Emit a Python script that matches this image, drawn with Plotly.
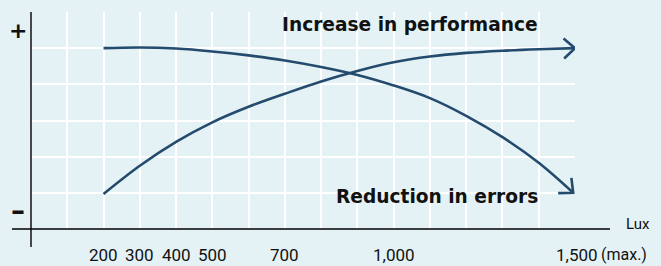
import math
import plotly.graph_objects as go

# ---- data ----
lux_perf = [200, 300, 400, 500, 600, 700, 800, 900, 1000, 1100, 1200, 1300, 1400, 1500]
performance = [0.97, 1.75, 2.41, 2.95, 3.38, 3.74, 4.08, 4.37, 4.61, 4.77, 4.87, 4.93, 4.97, 5.00]

lux_err = [200, 300, 400, 500, 600, 700, 800, 900, 1000, 1100, 1200, 1300, 1400, 1495]
errors = [5.00, 5.02, 4.99, 4.91, 4.80, 4.66, 4.48, 4.26, 3.97, 3.62, 3.13, 2.54, 1.83, 1.00]

tick_vals = [200, 300, 400, 500, 700, 1000, 1500]
tick_text = ["200", "300", "400", "500", "700", "1,000", "1,500 (max.)"]

series_labels = ["Increase in performance", "Reduction in errors"]
x_unit = "Lux"
y_labels = ["+", "–"]

# ---- style ----
W, H = 661, 266
ML, MR, MT, MB = 31, 86, 12, 37
PW, PH = W - ML - MR, H - MT - MB
XR = [0, 1500]
YR = [0, 6]
BG = "#E4F2F6"
NAVY = "#244B6D"
TXT = "#111111"
BOLD_FONT = "DejaVu Sans"
TICK_FONT = "Roboto, sans-serif"

fig = go.Figure()

def arrowhead(xs, ys, length=15, half_angle=42):
    # derived from the last two data points, in pixel space
    sx = PW / (XR[1] - XR[0])
    sy = PH / (YR[1] - YR[0])
    x1, y1 = xs[-1] * sx, ys[-1] * sy
    x0, y0 = xs[-2] * sx, ys[-2] * sy
    ang = math.atan2(y1 - y0, x1 - x0)
    back = ang + math.pi
    pts = []
    for a in (back + math.radians(half_angle), None, back - math.radians(half_angle)):
        if a is None:
            pts.append((xs[-1], ys[-1]))
        else:
            pts.append(((x1 + length * math.cos(a)) / sx, (y1 + length * math.sin(a)) / sy))
    return [p[0] for p in pts], [p[1] for p in pts]

for xs, ys in ((lux_perf, performance), (lux_err, errors)):
    fig.add_trace(go.Scatter(x=xs, y=ys, mode="lines",
                             line=dict(color=NAVY, width=2.6, shape="spline", smoothing=1),
                             hoverinfo="skip", showlegend=False))
    ax, ay = arrowhead(xs, ys)
    fig.add_trace(go.Scatter(x=ax, y=ay, mode="lines",
                             line=dict(color=NAVY, width=2.6),
                             hoverinfo="skip", showlegend=False))

# axis lines (extend beyond plot area)
fig.add_shape(type="line", xref="paper", yref="paper", x0=-19 / PW, x1=(610 - ML) / PW, y0=0, y1=0,
              line=dict(color="#000000", width=1.4))
fig.add_shape(type="line", xref="paper", yref="paper", x0=0, x1=0, y0=1, y1=-18 / PH,
              line=dict(color="#000000", width=1.4))

annotations = []
# tick labels
for v, t in zip(tick_vals, tick_text):
    if "(" in t:
        num, rest = t.split(" ", 1)
        annotations.append(dict(x=v, y=-26 / PH, xref="x", yref="paper", text=num, showarrow=False,
                                xanchor="center", yanchor="middle", xshift=2,
                                font=dict(family=TICK_FONT, size=17, color=TXT)))
        annotations.append(dict(x=v, y=-26 / PH, xref="x", yref="paper", text=rest, showarrow=False,
                                xanchor="left", yanchor="middle", xshift=24,
                                font=dict(family=TICK_FONT, size=16, color=TXT)))
    else:
        annotations.append(dict(x=v, y=-26 / PH, xref="x", yref="paper", text=t, showarrow=False,
                                xanchor="center", yanchor="middle",
                                font=dict(family=TICK_FONT, size=17, color=TXT)))
# unit label
annotations.append(dict(x=(638 - ML) / PW, y=5 / PH, xref="paper", yref="paper", text=x_unit,
                        showarrow=False, xanchor="center", yanchor="middle",
                        font=dict(family=TICK_FONT, size=15, color=TXT)))
# y labels
for lab, yv, fs in zip(y_labels, [5.5, 0.5], [22, 28]):
    annotations.append(dict(x=-13 / PW, y=yv, xref="paper", yref="y", text="<b>%s</b>" % lab,
                            showarrow=False, xanchor="center", yanchor="middle",
                            font=dict(family=BOLD_FONT, size=fs, color=TXT)))
# series labels
for lab, yv in zip(series_labels, [5.66, 0.89]):
    annotations.append(dict(x=1403, y=yv, xref="x", yref="y", text="<b>%s</b>" % lab,
                            showarrow=False, xanchor="right", yanchor="middle",
                            font=dict(family=BOLD_FONT, size=18.6, color=TXT)))

fig.update_layout(
    width=W, height=H,
    margin=dict(l=ML, r=MR, t=MT, b=MB, pad=0),
    paper_bgcolor=BG, plot_bgcolor=BG,
    showlegend=False,
    annotations=annotations,
    xaxis=dict(range=XR, dtick=100, tick0=0, showgrid=True, gridcolor="#FFFFFF", gridwidth=2,
               showticklabels=False, zeroline=False, showline=False, ticks="", fixedrange=True),
    yaxis=dict(range=YR, dtick=1, tick0=0, showgrid=True, gridcolor="#FFFFFF", gridwidth=2,
               showticklabels=False, zeroline=False, showline=False, ticks="", fixedrange=True),
)

fig.write_html("out.html", config={"displayModeBar": False},
               post_script="document.body.style.margin='0';document.body.style.overflow='hidden';")
